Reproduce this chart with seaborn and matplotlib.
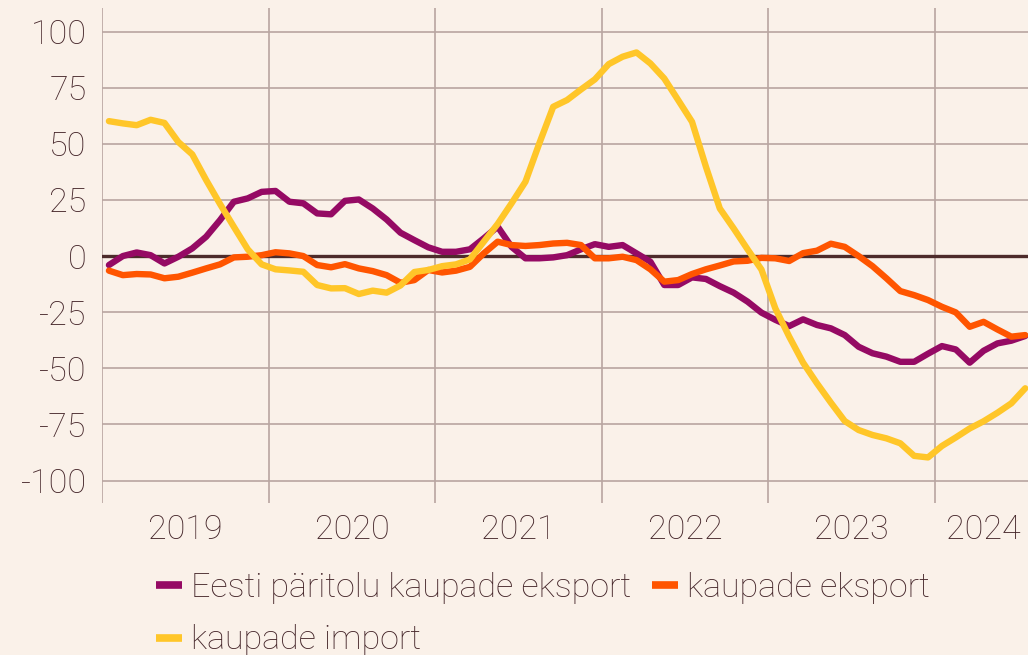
import numpy as np
import pandas as pd
import matplotlib
matplotlib.use("Agg")
import matplotlib.pyplot as plt
import seaborn as sns

# =====================================
# Data (monthly, Jan 2019 - Jul 2024)
# =====================================
eesti_eksport = [-4, 0, 1.6, 0.4, -3.3, -0.3, 3.4, 8.6, 16, 24.2, 25.7, 28.6,
                 29, 24.2, 23.5, 19, 18.6, 24.6, 25.2, 21.2, 16.3, 10.4, 7.1, 3.9,
                 1.9, 1.9, 3, 7.9, 13.1, 4.1, -1, -1, -0.6, 0.4, 3, 5.3,
                 4.1, 4.9, 1.2, -2.5, -12.9, -12.9, -9.5, -10.2, -13.4, -16.3, -20.3, -25.2,
                 -28.4, -31.2, -28.2, -30.7, -32.2, -35.2, -40.4, -43.3, -44.8, -47.1, -47.1, -43.5,
                 -40.1, -41.6, -47.5, -42.2, -38.9, -37.7, -35.6]
kaupade_eksport = [-6.5, -8.5, -8, -8.2, -9.9, -9.2, -7.4, -5.5, -3.7, -0.6, -0.3, 0.4,
                   1.7, 1.2, 0, -4, -5, -3.6, -5.5, -6.7, -8.5, -11.9, -10.7, -6.2,
                   -7.3, -6.5, -4.8, 1.2, 6.4, 4.9, 4.5, 4.9, 5.6, 5.9, 4.9, -1,
                   -1, -0.3, -1.8, -5.9, -11.4, -10.7, -8, -5.9, -4.2, -2.4, -2.1, -0.8,
                   -1, -2.2, 1.3, 2.4, 5.5, 4.1, 0, -4.5, -9.9, -15.6, -17.4, -19.6,
                   -22.6, -25.1, -31.5, -29.3, -32.7, -35.9, -35.2]
kaupade_import = [60.1, 59.1, 58.3, 60.7, 59.3, 50.8, 45.3, 33.9, 23.2, 13, 3, -3.7,
                  -5.9, -6.4, -7, -12.9, -14.4, -14.3, -16.9, -15.4, -16.3, -13.1, -7.1, -6.2,
                  -4.5, -3.7, -1.5, 6.4, 14.3, 23.5, 33.1, 50.2, 66.5, 69.5, 74.2, 78.7,
                  85.5, 88.8, 90.7, 85.8, 79.1, 69.5, 59.8, 39.8, 21.2, 12.3, 3, -6,
                  -23.3, -35.9, -47.5, -56.7, -65.3, -73.5, -77.5, -79.7, -81.2, -83.4, -89, -89.7,
                  -84.6, -80.8, -76.8, -73.6, -69.8, -65.6, -58.9]

series_names = ["Eesti päritolu kaupade eksport", "kaupade eksport", "kaupade import"]
series_colors = ["#950A64", "#FF5500", "#FFC629"]
year_labels = ["2019", "2020", "2021", "2022", "2023", "2024"]
y_ticks = [-100, -75, -50, -25, 0, 25, 50, 75, 100]

# months since Jan 2019, points at mid-month
month_pos = np.arange(len(eesti_eksport)) + 0.5

df = pd.concat([
    pd.DataFrame({"x": month_pos, "value": vals, "series": name})
    for name, vals in zip(series_names, [eesti_eksport, kaupade_eksport, kaupade_import])
])

# =====================================
# Style
# =====================================
bg = "#FAF1E9"
text_col = "#45262A"
grid_col = "#B9A5A0"
fs = 24.5

sns.set_theme(style="white")
plt.rcParams["font.family"] = ["Roboto", "DejaVu Sans"]
plt.rcParams["font.weight"] = "light"

fig = plt.figure(figsize=(10.28, 6.55), dpi=100, facecolor=bg)
ax = fig.add_axes([102 / 1028, 1 - 503 / 655, 1 - 102 / 1028, (503 - 8) / 655])
ax.set_facecolor(bg)

sns.lineplot(data=df, x="x", y="value", hue="series", palette=series_colors,
             hue_order=series_names, linewidth=4.6, ax=ax, sort=True)

ax.axhline(0, color="#4D2B2B", linewidth=2.4, zorder=1.5)

# grid
for yv in y_ticks:
    if yv != 0:
        ax.axhline(yv, color=grid_col, linewidth=1.2, zorder=0)
for xv in range(0, 61, 12):
    ax.axvline(xv, color=grid_col, linewidth=1.2, zorder=0)

ax.set_xlim(0, 66.7)
ax.set_ylim(-110, 110.5)
for s in ax.spines.values():
    s.set_visible(False)

ax.set_yticks(y_ticks)
ax.set_yticklabels([str(v) for v in y_ticks])
year_centers = [6, 18, 30, 42, 54, 63.5]
ax.set_xticks(year_centers)
ax.set_xticklabels(year_labels)
ax.tick_params(axis="both", length=0, labelsize=fs, colors=text_col)
ax.tick_params(axis="y", pad=11)
ax.tick_params(axis="x", pad=8)
ax.set_xlabel("")
ax.set_ylabel("")

# legend: row 1 = first two series, row 2 = import
handles, labels = ax.get_legend_handles_labels()
order = [0, 2, 1]
leg = ax.legend([handles[i] for i in order], [labels[i] for i in order],
                ncol=2, loc="upper left", bbox_to_anchor=(156 / 1028, 1 - 572 / 655),
                bbox_transform=fig.transFigure, frameon=False, fontsize=fs,
                handlelength=0.75, handletextpad=0.28, columnspacing=0.62,
                labelspacing=0.6, borderpad=0, borderaxespad=0)
for t in leg.get_texts():
    t.set_color(text_col)
for h in leg.get_lines():
    h.set_linewidth(5.5)
    h.set_solid_capstyle("butt")

fig.savefig("out.png", dpi=100, facecolor=bg)
